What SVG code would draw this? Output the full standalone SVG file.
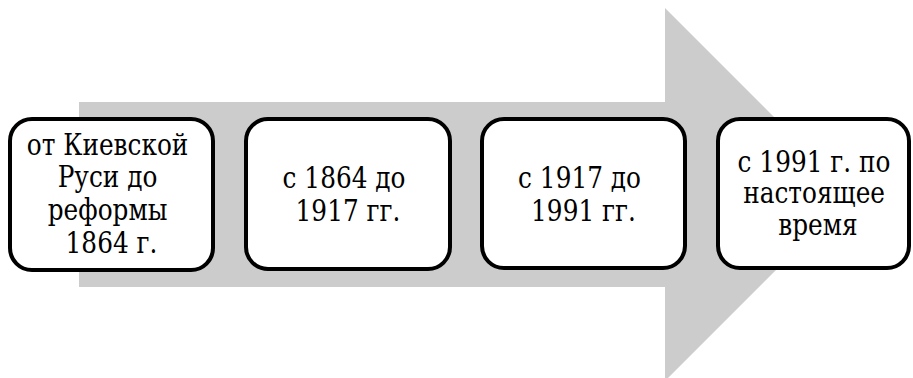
<svg xmlns="http://www.w3.org/2000/svg" width="913" height="378" viewBox="0 0 913 378">
  <style>
    .box { fill: #ffffff; stroke: #000000; stroke-width: 4; }
    .lbl { font-family: 'DejaVu Serif', 'Liberation Serif', serif; font-size: 29px; fill: #000000; text-anchor: middle; }
  </style>
  <rect width="913" height="378" fill="#ffffff"/>

  <!-- broad timeline arrow behind the stages -->
  <g id="connectors">
    <polygon points="79,102 665,102 665,8 851.5,194.5 665,381 665,287 79,287" fill="#cccccc"/>
  </g>

  <g id="stage1">
    <rect class="box" x="10" y="119" width="203" height="151" rx="22" ry="22"/>
    <text class="lbl" transform="translate(111.5 0) scale(0.855 1)">
      <tspan x="0" y="155">от Киевской</tspan>
      <tspan x="0" y="187.5">Руси до</tspan>
      <tspan x="0" y="220">реформы</tspan>
      <tspan x="0" y="253">1864 г.</tspan>
    </text>
  </g>

  <g id="stage2">
    <rect class="box" x="246" y="119" width="204" height="150" rx="22" ry="22"/>
    <text class="lbl" transform="translate(348 0) scale(0.855 1)">
      <tspan x="0" y="188">с 1864 до</tspan>
      <tspan x="0" y="221.5">1917 гг.</tspan>
    </text>
  </g>

  <g id="stage3">
    <rect class="box" x="482" y="119" width="203" height="149" rx="22" ry="22"/>
    <text class="lbl" transform="translate(583.5 0) scale(0.855 1)">
      <tspan x="0" y="188">с 1917 до</tspan>
      <tspan x="0" y="221.5">1991 гг.</tspan>
    </text>
  </g>

  <g id="stage4">
    <rect class="box" x="718" y="119" width="191" height="149" rx="22" ry="22"/>
    <text class="lbl" transform="translate(818 0) scale(0.855 1)">
      <tspan x="0" y="172">с 1991 г. по</tspan>
      <tspan x="0" y="203.5">настоящее</tspan>
      <tspan x="0" y="235">время</tspan>
    </text>
  </g>
</svg>
